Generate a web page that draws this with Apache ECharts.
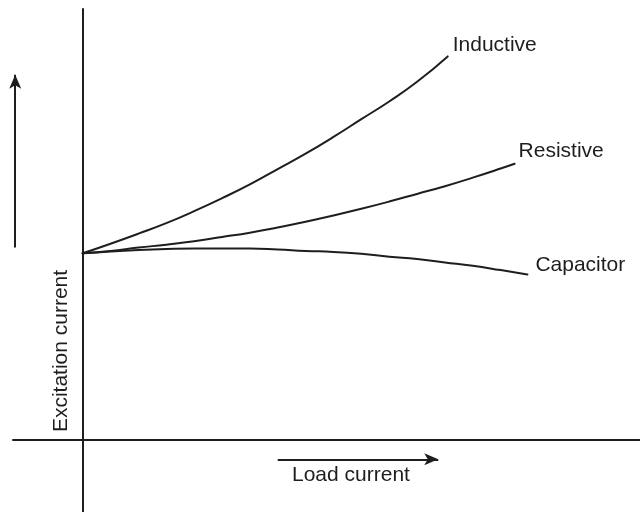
<!DOCTYPE html>
<html>
<head>
<meta charset="utf-8">
<script src="https://cdn.jsdelivr.net/npm/echarts@6/dist/echarts.min.js"></script>
<style>
  html, body { margin: 0; padding: 0; background: #fff; }
  #chart { width: 640px; height: 512px; }
</style>
</head>
<body>
<div id="chart"></div>
<script>
// Load current (arbitrary units) at which each curve was sampled
const inductiveX = [0, 0.5, 1, 1.5, 2, 2.5, 3, 3.5, 4, 4.5, 5, 5.5, 6, 6.55];
const resistiveX = [0, 0.5, 1, 1.5, 2, 2.5, 3, 3.5, 4, 4.5, 5, 5.5, 6, 6.5, 7, 7.5, 7.75];
const capacitorX = [0, 0.5, 1, 1.5, 2, 2.5, 3, 3.5, 4, 4.5, 5, 5.5, 6, 6.5, 7, 7.5, 7.98];

// Excitation current (arbitrary units) for each power-factor case
const inductiveY = [3.90, 4.10, 4.31, 4.53, 4.78, 5.05, 5.34, 5.66, 5.98, 6.33, 6.70, 7.07, 7.48, 8.01];
const resistiveY = [3.90, 3.95, 4.02, 4.08, 4.15, 4.24, 4.33, 4.44, 4.56, 4.69, 4.83, 4.98, 5.14, 5.30, 5.48, 5.67, 5.77];
const capacitorY = [3.90, 3.94, 3.97, 3.99, 4.00, 4.00, 4.00, 3.98, 3.95, 3.93, 3.89, 3.83, 3.78, 3.71, 3.64, 3.55, 3.46];

const seriesNames = ['Inductive', 'Resistive', 'Capacitor'];
const xAxisTitle = 'Load current';
const yAxisTitle = 'Excitation current';

// Direction arrows drawn in axis units
const upArrow    = [[-1.21, 4.02], [-1.21, 7.63]];
const rightArrow = [[3.5, -0.40], [6.38, -0.40]];

const INK = '#1e1e1e';
const FONT = '"Liberation Sans", Arial, Helvetica, sans-serif';

const zip = (xs, ys) => xs.map((x, i) => [x, ys[i]]);

const labelOffsets = [[5, -11], [4, -13], [8, -9]];

function curve(name, xs, ys, k) {
  return {
    name: name,
    type: 'line',
    data: zip(xs, ys),
    smooth: 0.5,
    showSymbol: false,
    symbol: 'none',
    lineStyle: { color: INK, width: 2, join: 'round', cap: 'round' },
    itemStyle: { color: INK },
    silent: true,
    endLabel: {
      show: true,
      formatter: '{a}',
      color: INK,
      fontFamily: FONT,
      fontSize: 21,
      distance: 0,
      offset: labelOffsets[k]
    }
  };
}

const chart = echarts.init(document.getElementById('chart'), null, { renderer: 'canvas' });

chart.setOption({
  animation: false,
  backgroundColor: '#ffffff',
  grid: { left: 13, top: 9, width: 630, height: 504, containLabel: false },
  xAxis: {
    type: 'value', min: -1.25, max: 10,
    axisLine: { show: true, onZero: true, lineStyle: { color: INK, width: 2 } },
    axisTick: { show: false }, axisLabel: { show: false }, splitLine: { show: false }
  },
  yAxis: {
    type: 'value', min: -1.5, max: 9,
    axisLine: { show: true, onZero: true, lineStyle: { color: INK, width: 2 } },
    axisTick: { show: false }, axisLabel: { show: false }, splitLine: { show: false }
  },
  series: [
    curve(seriesNames[0], inductiveX, inductiveY, 0),
    curve(seriesNames[1], resistiveX, resistiveY, 1),
    curve(seriesNames[2], capacitorX, capacitorY, 2),
    {
      name: 'arrows',
      type: 'line',
      data: [],
      silent: true,
      markLine: {
        silent: true,
        symbol: ['none', 'arrow'],
        symbolSize: [9, 14],
        label: { show: false },
        lineStyle: { color: INK, width: 2, type: 'solid' },
        emphasis: { disabled: true },
        data: [
          [{ coord: upArrow[0] }, { coord: upArrow[1] }],
          [{ coord: rightArrow[0] }, { coord: rightArrow[1] }]
        ]
      }
    }
  ],
  graphic: [
    {
      type: 'text',
      x: 292, y: 475,
      style: {
        text: xAxisTitle, fill: INK, font: '21px ' + FONT,
        textAlign: 'left', textVerticalAlign: 'middle'
      }
    },
    {
      type: 'text',
      x: 61, y: 351,
      rotation: Math.PI / 2,
      style: {
        text: yAxisTitle, fill: INK, font: '21px ' + FONT,
        textAlign: 'center', textVerticalAlign: 'middle'
      }
    }
  ]
});
</script>
</body>
</html>
